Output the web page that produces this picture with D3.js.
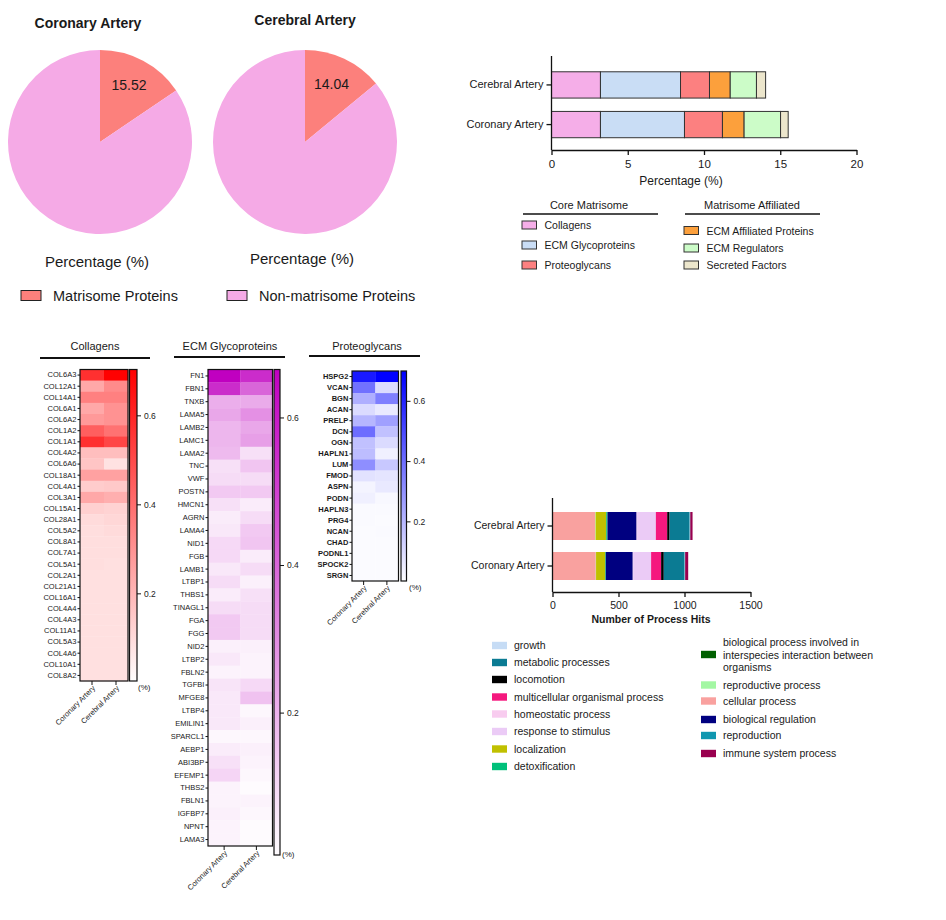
<!DOCTYPE html>
<html><head><meta charset="utf-8">
<script src="https://cdn.jsdelivr.net/npm/d3@7"></script>
<style>
html,body{margin:0;padding:0;background:#fff;}
svg{display:block;font-family:"Liberation Sans",Arial,sans-serif;}
</style></head>
<body><svg id="c" width="946" height="920"></svg>
<script>
// ---------- DATA ----------
const pieGroups = ["Coronary Artery", "Cerebral Artery"];
const matrisomePct = [15.52, 14.04];
const pieCategories = ["Matrisome Proteins", "Non-matrisome Proteins"];
const pieColors = ["#fc807c", "#f5aae6"];

const barGroups = ["Cerebral Artery", "Coronary Artery"];
const matCategories = ["Collagens", "ECM Glycoproteins", "Proteoglycans", "ECM Affiliated Proteins", "ECM Regulators", "Secreted Factors"];
const matColors = ["#f5aee8", "#c9ddf5", "#fc8080", "#fca03c", "#ccfcc8", "#ece6cc"];
const matCerebral = [3.21, 5.25, 1.90, 1.36, 1.72, 0.60];
const matCoronary = [3.21, 5.51, 2.49, 1.42, 2.39, 0.50];
const matTicks = [0, 5, 10, 15, 20];

const heatCols = ["Coronary Artery", "Cerebral Artery"];

const collagenGenes = ["COL6A3","COL12A1","COL14A1","COL6A1","COL6A2","COL1A2","COL1A1","COL4A2","COL6A6","COL18A1","COL4A1","COL3A1","COL15A1","COL28A1","COL5A2","COL8A1","COL7A1","COL5A1","COL2A1","COL21A1","COL16A1","COL4A4","COL4A3","COL11A1","COL5A3","COL4A6","COL10A1","COL8A2"];
const collagenCoronary = [0.57,0.24,0.35,0.24,0.28,0.44,0.57,0.18,0.16,0.26,0.14,0.24,0.13,0.10,0.09,0.09,0.09,0.09,0.085,0.085,0.085,0.085,0.085,0.085,0.085,0.085,0.085,0.085];
const collagenCerebral = [0.70,0.32,0.35,0.30,0.30,0.39,0.51,0.18,0.08,0.26,0.15,0.22,0.12,0.11,0.10,0.09,0.09,0.085,0.085,0.085,0.085,0.085,0.085,0.085,0.085,0.085,0.085,0.085];

const glycoGenes = ["FN1","FBN1","TNXB","LAMA5","LAMB2","LAMC1","LAMA2","TNC","VWF","POSTN","HMCN1","AGRN","LAMA4","NID1","FGB","LAMB1","LTBP1","THBS1","TINAGL1","FGA","FGG","NID2","LTBP2","FBLN2","TGFBI","MFGE8","LTBP4","EMILIN1","SPARCL1","AEBP1","ABI3BP","EFEMP1","THBS2","FBLN1","IGFBP7","NPNT","LAMA3"];
const glycoCoronary = [0.665,0.55,0.21,0.23,0.19,0.19,0.18,0.08,0.09,0.14,0.08,0.05,0.06,0.10,0.10,0.06,0.09,0.05,0.09,0.14,0.14,0.04,0.06,0.03,0.07,0.06,0.06,0.06,0.02,0.05,0.08,0.11,0.03,0.03,0.04,0.03,0.03];
const glycoCerebral = [0.55,0.40,0.22,0.29,0.23,0.25,0.08,0.15,0.09,0.14,0.05,0.09,0.14,0.15,0.05,0.09,0.04,0.08,0.09,0.09,0.09,0.04,0.03,0.03,0.10,0.16,0.02,0.04,0.02,0.04,0.03,0.02,0.01,0.03,0.02,0.01,0.01];

const proteoGenes = ["HSPG2","VCAN","BGN","ACAN","PRELP","DCN","OGN","HAPLN1","LUM","FMOD","ASPN","PODN","HAPLN3","PRG4","NCAN","CHAD","PODNL1","SPOCK2","SRGN"];
const proteoCoronary = [0.63,0.39,0.22,0.10,0.20,0.40,0.17,0.18,0.31,0.08,0.03,0.04,0.015,0.015,0.012,0.012,0.012,0.012,0.012];
const proteoCerebral = [0.70,0.10,0.35,0.06,0.26,0.17,0.10,0.04,0.15,0.07,0.06,0.02,0.015,0.012,0.015,0.012,0.012,0.012,0.012];
const colorbarTicks = [0.2, 0.4, 0.6];

const processCategories = ["growth","metabolic processes","locomotion","multicellular organismal process","homeostatic process","response to stimulus","localization","detoxification","biological process involved in interspecies interaction between organisms","reproductive process","cellular process","biological regulation","reproduction","immune system process"];
const processColors = ["#c6dcf5","#0b7b93","#000000","#f5187e","#f8ccef","#ebcbf6","#c0c000","#00c07a","#006000","#a3f7a3","#f9a19f","#000080","#1097b0","#99004f"];
const processCerebral = [2,152,18,86,4,142,80,8,2,4,323,220,3,17];
const processCoronary = [2,157,20,76,3,136,69,5,0,2,328,204,3,23];
const processStackOrder = ["cellular process","reproductive process","localization","detoxification","biological process involved in interspecies interaction between organisms","biological regulation","homeostatic process","response to stimulus","multicellular organismal process","locomotion","metabolic processes","growth","reproduction","immune system process"];
const processTicks = [0, 500, 1000, 1500];

// ---------- DRAW ----------
const svg = d3.select("#c");
const TXT = "#1a1a1a";

// ---- Pies ----
const pieCenters = [[100, 142], [305, 142]];
const pieTitleY = [28, 25];
const pieXlabY = [267, 264];
const pieR = 92;
const pieGen = d3.pie().sort(null).startAngle(0).endAngle(2 * Math.PI);
const arc = d3.arc().innerRadius(0).outerRadius(pieR);
const labelArc = d3.arc().innerRadius(62).outerRadius(62);
pieGroups.forEach((name, i) => {
  const [cx, cy] = pieCenters[i];
  const g = svg.append("g").attr("transform", `translate(${cx},${cy})`);
  const arcs = pieGen([matrisomePct[i], 100 - matrisomePct[i]]);
  g.selectAll("path").data(arcs).join("path")
    .attr("d", arc).attr("fill", (d, j) => pieColors[j]);
  const c = labelArc.centroid(arcs[0]);
  g.append("text").attr("x", c[0]).attr("y", c[1] - 1).attr("text-anchor", "middle")
    .attr("dominant-baseline", "middle").attr("font-size", 14).attr("fill", TXT)
    .text(matrisomePct[i].toFixed(2));
  svg.append("text").attr("x", cx - (i === 0 ? 12 : 0)).attr("y", pieTitleY[i]).attr("text-anchor", "middle")
    .attr("font-size", 14).attr("font-weight", "bold").attr("fill", TXT).text(name);
  svg.append("text").attr("x", cx - 3).attr("y", pieXlabY[i]).attr("text-anchor", "middle")
    .attr("font-size", 15).attr("fill", TXT).text("Percentage (%)");
});
const pieLegX = [21, 227];
pieCategories.forEach((c, i) => {
  svg.append("rect").attr("x", pieLegX[i]).attr("y", 290.5).attr("width", 20).attr("height", 10)
    .attr("fill", pieColors[i]).attr("stroke", "#222").attr("stroke-width", 1);
  svg.append("text").attr("x", pieLegX[i] + 32).attr("y", 300.5).attr("font-size", 14.5)
    .attr("fill", TXT).text(c);
});

// ---- Matrisome stacked bar ----
{
  const x = d3.scaleLinear().domain([0, 20]).range([551.5, 856.5]);
  const y = d3.scaleBand().domain(barGroups).range([58.5, 151]).paddingInner(0.337).paddingOuter(0.335);
  const rows = [matCerebral, matCoronary];
  const g = svg.append("g");
  barGroups.forEach((grp, gi) => {
    let acc = 0;
    rows[gi].forEach((v, k) => {
      g.append("rect").attr("x", x(acc)).attr("y", y(grp)).attr("width", x(acc + v) - x(acc))
        .attr("height", y.bandwidth()).attr("fill", matColors[k]).attr("stroke", "#333").attr("stroke-width", 1);
      acc += v;
    });
  });
  const xa = svg.append("g").attr("transform", "translate(0,150)")
    .call(d3.axisBottom(x).tickValues(matTicks).tickSize(5).tickSizeOuter(0).tickFormat(d3.format("d")));
  const ya = svg.append("g").attr("transform", "translate(551.5,0)")
    .call(d3.axisLeft(y).tickSize(5).tickSizeOuter(0));
  [xa, ya].forEach(a => {
    a.selectAll("path,line").attr("stroke", "#111").attr("stroke-width", 1.3);
    a.selectAll("text").attr("font-size", 11).attr("fill", TXT);
  });
  ya.select(".domain").attr("d", "M0,56V150");
  xa.selectAll("text").attr("font-size", 11.5).attr("dy", "0.9em");
  svg.append("text").attr("x", 681).attr("y", 185).attr("text-anchor", "middle")
    .attr("font-size", 12).attr("fill", TXT).text("Percentage (%)");

  // legend
  const heads = [["Core Matrisome", 589, 523, 658], ["Matrisome Affiliated", 752, 685, 820]];
  heads.forEach(h => {
    svg.append("text").attr("x", h[1]).attr("y", 209).attr("text-anchor", "middle")
      .attr("font-size", 11).attr("fill", TXT).text(h[0]);
    svg.append("line").attr("x1", h[2]).attr("x2", h[3]).attr("y1", 214).attr("y2", 214)
      .attr("stroke", "#111").attr("stroke-width", 1.3);
  });
  const legPos = [[522, 225], [522, 245], [522, 265], [684, 230.5], [684, 248], [684, 265]];
  matCategories.forEach((c, k) => {
    const [lx, ly] = legPos[k];
    svg.append("rect").attr("x", lx).attr("y", ly - 4).attr("width", 14.5).attr("height", 8)
      .attr("fill", matColors[k]).attr("stroke", "#333").attr("stroke-width", 1);
    svg.append("text").attr("x", lx + 22.5).attr("y", ly + 4).attr("font-size", 10.5)
      .attr("fill", TXT).text(c);
  });
}

// ---- Heatmaps ----
function heatmap(o) {
  const g = svg.append("g");
  const x = d3.scaleBand().domain(heatCols).range([o.x0, o.x1]);
  const y = d3.scaleBand().domain(o.genes).range([o.y0, o.y1]);
  const col = d3.scaleLinear().domain([0, o.vmax]).range(["#ffffff", o.color]).clamp(true);
  const vals = [o.cor, o.cer];
  o.genes.forEach((gn, i) => {
    heatCols.forEach((c, j) => {
      g.append("rect").attr("x", x(c)).attr("y", y(gn)).attr("width", x.bandwidth() + 0.3)
        .attr("height", y.bandwidth() + 0.3).attr("fill", col(vals[j][i]));
    });
  });
  g.append("rect").attr("x", o.x0).attr("y", o.y0).attr("width", o.x1 - o.x0).attr("height", o.y1 - o.y0)
    .attr("fill", "none").attr("stroke", "#111").attr("stroke-width", 1.2);
  const ya = g.append("g").attr("transform", `translate(${o.x0},0)`)
    .call(d3.axisLeft(y).tickSize(2.5).tickSizeOuter(0));
  ya.select(".domain").remove();
  ya.selectAll("line").attr("stroke", "#111");
  ya.selectAll("text").attr("font-size", 7.5).attr("fill", TXT).attr("dx", "0.25em")
    .attr("font-weight", o.boldLabels ? "bold" : "normal");
  const xa = g.append("g").attr("transform", `translate(0,${o.y1})`)
    .call(d3.axisBottom(x).tickSize(4).tickSizeOuter(0));
  xa.select(".domain").remove();
  xa.selectAll("line").attr("stroke", "#111");
  xa.selectAll("text").attr("font-size", 7.5).attr("fill", TXT).attr("text-anchor", "end")
    .attr("transform", "translate(2,6) rotate(-45)").attr("dy", "0.3em").attr("y", 0).attr("x", 0);
  // colorbar
  const cb = d3.scaleLinear().domain([o.cbMin, o.cbMax]).range([o.cbY1, o.y0]);
  const gid = "grad" + o.id;
  const grad = svg.append("defs").append("linearGradient").attr("id", gid)
    .attr("x1", 0).attr("y1", 1).attr("x2", 0).attr("y2", 0);
  grad.append("stop").attr("offset", 0).attr("stop-color", col(o.cbMin));
  grad.append("stop").attr("offset", 1).attr("stop-color", col(o.cbMax));
  g.append("rect").attr("x", o.cbX0).attr("y", o.y0).attr("width", o.cbX1 - o.cbX0).attr("height", o.cbY1 - o.y0)
    .attr("fill", `url(#${gid})`).attr("stroke", "#111").attr("stroke-width", 1.2);
  const ca = g.append("g").attr("transform", `translate(${o.cbX1},0)`)
    .call(d3.axisRight(cb).tickValues(colorbarTicks).tickSize(4).tickFormat(d3.format(".1f")));
  ca.select(".domain").remove();
  ca.selectAll("line").attr("stroke", "#111");
  ca.selectAll("text").attr("font-size", 8.5).attr("fill", TXT).attr("x", 7);
  g.append("text").attr("x", o.pctX).attr("y", o.pctY).attr("font-size", 8).attr("fill", TXT).text("(%)");
  // title
  g.append("text").attr("x", o.titleX).attr("y", 350).attr("text-anchor", "middle")
    .attr("font-size", 11).attr("fill", TXT).text(o.title);
  g.append("line").attr("x1", o.lx0).attr("x2", o.lx1).attr("y1", o.ly).attr("y2", o.ly)
    .attr("stroke", "#111").attr("stroke-width", 2);
}
heatmap({id: 1, title: "Collagens", genes: collagenGenes, cor: collagenCoronary, cer: collagenCerebral,
  color: "#ff0000", vmax: 0.703, x0: 80, x1: 128, y0: 369.5, y1: 681,
  cbX0: 129.5, cbX1: 137, cbY1: 681, cbMin: 0.003, cbMax: 0.703, pctX: 138, pctY: 690,
  titleX: 95, lx0: 40, lx1: 150, ly: 358});
heatmap({id: 2, title: "ECM Glycoproteins", genes: glycoGenes, cor: glycoCoronary, cer: glycoCerebral,
  color: "#c000c0", vmax: 0.665, x0: 208, x1: 272.5, y0: 369.5, y1: 846,
  cbX0: 274, cbX1: 280, cbY1: 855, cbMin: 0.007, cbMax: 0.665, pctX: 282, pctY: 857,
  titleX: 230, lx0: 174, lx1: 285, ly: 357});
heatmap({id: 3, title: "Proteoglycans", genes: proteoGenes, cor: proteoCoronary, cer: proteoCerebral,
  color: "#0000ff", vmax: 0.699, x0: 352, x1: 398.5, y0: 371, y1: 581, boldLabels: true,
  cbX0: 401, cbX1: 406.5, cbY1: 581, cbMin: 0.002, cbMax: 0.699, pctX: 409, pctY: 590,
  titleX: 367, lx0: 309, lx1: 420, ly: 356});

// ---- Process hits stacked bar ----
{
  const x = d3.scaleLinear().domain([0, 1500]).range([552.5, 750.5]);
  const y = d3.scaleBand().domain(barGroups).range([500, 592]).paddingInner(0.3).paddingOuter(0.3);
  const rows = [processCerebral, processCoronary];
  const g = svg.append("g");
  barGroups.forEach((grp, gi) => {
    let acc = 0;
    processStackOrder.forEach(name => {
      const k = processCategories.indexOf(name);
      const v = rows[gi][k];
      if (v > 0) {
        g.append("rect").attr("x", x(acc)).attr("y", y(grp)).attr("width", x(acc + v) - x(acc))
          .attr("height", y.bandwidth()).attr("fill", processColors[k]);
      }
      acc += v;
    });
  });
  const xa = svg.append("g").attr("transform", "translate(0,592)")
    .call(d3.axisBottom(x).tickValues(processTicks).tickSize(5).tickSizeOuter(0).tickFormat(d3.format("d")));
  const ya = svg.append("g").attr("transform", "translate(552.5,0)")
    .call(d3.axisLeft(y).tickSize(5).tickSizeOuter(0));
  [xa, ya].forEach(a => {
    a.selectAll("path,line").attr("stroke", "#111").attr("stroke-width", 1.3);
    a.selectAll("text").attr("font-size", 10.5).attr("fill", TXT);
  });
  ya.select(".domain").attr("d", "M0,498V592");
  xa.selectAll("text").attr("dy", "0.85em");
  svg.append("text").attr("x", 651).attr("y", 623).attr("text-anchor", "middle")
    .attr("font-size", 10.5).attr("font-weight", "bold").attr("fill", TXT).text("Number of Process Hits");

  // legend
  const leftY = [645.5, 662.5, 679.5, 697, 714, 731.5, 749, 766.5];
  const rightY = [654.5, 685, 701, 719.5, 735.5, 753.5];
  processCategories.forEach((c, k) => {
    const left = k < 8;
    const lx = left ? 492 : 701;
    const ly = left ? leftY[k] : rightY[k - 8];
    svg.append("rect").attr("x", lx).attr("y", ly - 3.7).attr("width", 15).attr("height", 7.4)
      .attr("fill", processColors[k]);
    const t = svg.append("text").attr("x", left ? 514 : 723).attr("font-size", 10.5).attr("fill", TXT);
    if (c.startsWith("biological process involved")) {
      const lines = ["biological process involved in", "interspecies interaction between", "organisms"];
      lines.forEach((ln, li) => t.append("tspan").attr("x", 723).attr("y", ly - 12.5 + li * 12.7 + 3.8).text(ln));
    } else {
      t.attr("y", ly + 3.8).text(c);
    }
  });
}
</script></body></html>
